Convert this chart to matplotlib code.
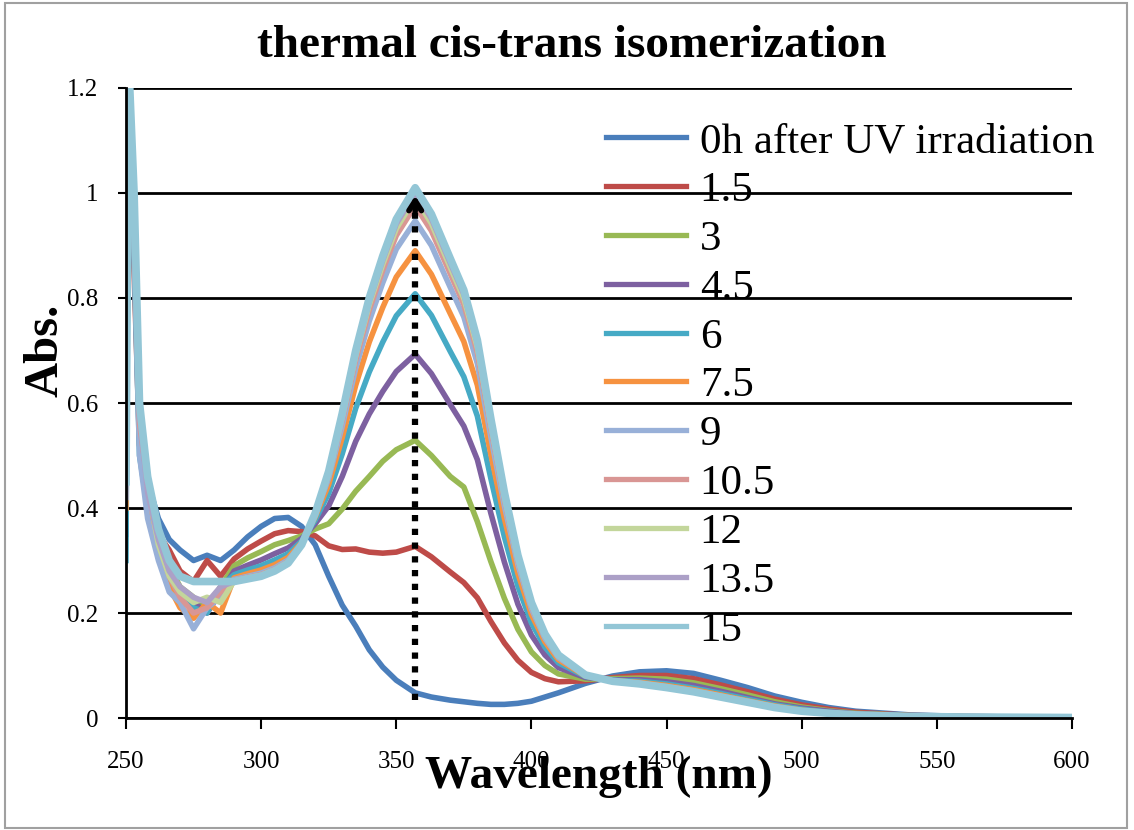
import matplotlib
matplotlib.use("Agg")
import matplotlib.pyplot as plt
from matplotlib.patches import Rectangle

plt.rcParams['font.family'] = ['Liberation Serif', 'DejaVu Serif']

# wavelength grid (nm)
wavelength = [250, 251, 253, 255, 258, 262, 266, 270, 275, 280, 285,
              290, 295, 300, 305, 310, 315, 320, 325, 330, 335, 340, 345, 350,
              357, 363, 370, 375, 380, 385, 390, 395, 400, 405, 410,
              420, 430, 440, 450, 460, 470, 480, 490, 500, 510, 520, 540, 560, 600]

labels = ['0h after UV irradiation', '1.5', '3', '4.5', '6', '7.5',
          '9', '10.5', '12', '13.5', '15']

colors = ['#4A7EBB', '#BE4B48', '#98B954', '#7D60A0', '#46AAC5', '#F69240',
          '#98B0D8', '#D99694', '#C3D69B', '#ACA0C7', '#93C6D6']

abs_0h = [0.35, 1.25, 0.90, 0.55, 0.45, 0.38, 0.34, 0.32, 0.30, 0.31, 0.30,
          0.32, 0.345, 0.365, 0.38, 0.382, 0.365, 0.33, 0.27, 0.215, 0.175, 0.13, 0.097, 0.072,
          0.048, 0.04, 0.034, 0.031, 0.028, 0.026, 0.026, 0.028, 0.032, 0.04, 0.048,
          0.066, 0.08, 0.088, 0.09, 0.085, 0.072, 0.058, 0.042, 0.03, 0.02, 0.013, 0.006, 0.003, 0.001]
abs_1h5 = [0.55, 1.25, 0.85, 0.52, 0.43, 0.35, 0.32, 0.28, 0.26, 0.30, 0.27,
           0.303, 0.322, 0.337, 0.351, 0.357, 0.355, 0.347, 0.328, 0.321, 0.322, 0.316, 0.314, 0.316,
           0.327, 0.307, 0.278, 0.258, 0.229, 0.184, 0.143, 0.11, 0.087, 0.075, 0.069,
           0.071, 0.077, 0.081, 0.081, 0.075, 0.063, 0.05, 0.036, 0.025, 0.017, 0.011, 0.005, 0.003, 0.001]
abs_3h = [0.45, 1.25, 0.95, 0.58, 0.44, 0.34, 0.29, 0.25, 0.23, 0.21, 0.25,
          0.29, 0.305, 0.317, 0.33, 0.338, 0.347, 0.36, 0.37, 0.398, 0.432, 0.46, 0.489, 0.511,
          0.529, 0.50, 0.46, 0.44, 0.374, 0.298, 0.228, 0.169, 0.126, 0.10, 0.084,
          0.074, 0.075, 0.076, 0.074, 0.067, 0.056, 0.044, 0.031, 0.021, 0.014, 0.009, 0.0045, 0.0025, 0.001]
abs_4h5 = [0.50, 1.25, 0.90, 0.55, 0.42, 0.33, 0.28, 0.24, 0.22, 0.20, 0.24,
           0.28, 0.291, 0.301, 0.313, 0.324, 0.342, 0.37, 0.404, 0.46, 0.527, 0.579, 0.622, 0.66,
           0.693, 0.656, 0.597, 0.556, 0.492, 0.39, 0.297, 0.217, 0.158, 0.12, 0.096,
           0.077, 0.073, 0.073, 0.069, 0.062, 0.051, 0.039, 0.027, 0.019, 0.013, 0.008, 0.004, 0.002, 0.001]
abs_6h = [0.30, 1.25, 0.88, 0.50, 0.40, 0.33, 0.27, 0.23, 0.21, 0.20, 0.25,
          0.273, 0.282, 0.29, 0.301, 0.313, 0.337, 0.377, 0.428, 0.503, 0.59, 0.659, 0.716, 0.766,
          0.808, 0.767, 0.698, 0.65, 0.575, 0.456, 0.345, 0.251, 0.181, 0.135, 0.105,
          0.079, 0.072, 0.07, 0.065, 0.057, 0.047, 0.036, 0.025, 0.017, 0.011, 0.007, 0.004, 0.002, 0.001]
abs_7h5 = [0.40, 1.25, 0.92, 0.54, 0.41, 0.32, 0.25, 0.21, 0.19, 0.22, 0.20,
           0.267, 0.275, 0.282, 0.292, 0.306, 0.334, 0.383, 0.445, 0.534, 0.634, 0.716, 0.782, 0.84,
           0.89, 0.845, 0.77, 0.717, 0.634, 0.502, 0.38, 0.275, 0.197, 0.145, 0.111,
           0.08, 0.071, 0.068, 0.062, 0.054, 0.044, 0.033, 0.023, 0.015, 0.01, 0.007, 0.003, 0.002, 0.001]
abs_9h = [0.42, 1.25, 0.90, 0.50, 0.38, 0.30, 0.24, 0.22, 0.17, 0.21, 0.23,
          0.264, 0.27, 0.276, 0.286, 0.301, 0.332, 0.386, 0.457, 0.556, 0.666, 0.756, 0.829, 0.893,
          0.947, 0.90, 0.82, 0.764, 0.675, 0.535, 0.404, 0.292, 0.208, 0.152, 0.115,
          0.081, 0.071, 0.066, 0.06, 0.052, 0.042, 0.032, 0.021, 0.014, 0.01, 0.006, 0.003, 0.002, 0.001]
abs_10h5 = [0.58, 1.25, 0.95, 0.56, 0.45, 0.34, 0.27, 0.23, 0.20, 0.21, 0.24,
            0.262, 0.268, 0.273, 0.283, 0.298, 0.331, 0.388, 0.463, 0.567, 0.682, 0.777, 0.853, 0.919,
            0.976, 0.928, 0.846, 0.788, 0.696, 0.551, 0.416, 0.30, 0.213, 0.156, 0.117,
            0.081, 0.07, 0.066, 0.059, 0.051, 0.041, 0.031, 0.021, 0.014, 0.009, 0.006, 0.003, 0.002, 0.001]
abs_12h = [0.52, 1.25, 1.00, 0.60, 0.44, 0.33, 0.27, 0.24, 0.22, 0.23, 0.22,
           0.261, 0.267, 0.272, 0.282, 0.297, 0.331, 0.389, 0.466, 0.573, 0.69, 0.787, 0.864, 0.932,
           0.991, 0.942, 0.858, 0.799, 0.706, 0.559, 0.422, 0.304, 0.216, 0.158, 0.119,
           0.082, 0.07, 0.065, 0.059, 0.051, 0.041, 0.031, 0.021, 0.013, 0.009, 0.006, 0.003, 0.002, 0.001]
abs_13h5 = [0.48, 1.25, 0.98, 0.58, 0.43, 0.34, 0.28, 0.25, 0.23, 0.22, 0.25,
            0.26, 0.266, 0.271, 0.281, 0.296, 0.33, 0.389, 0.468, 0.576, 0.695, 0.793, 0.872, 0.941,
            1.0, 0.951, 0.866, 0.807, 0.713, 0.565, 0.426, 0.307, 0.218, 0.159, 0.119,
            0.082, 0.07, 0.065, 0.058, 0.05, 0.04, 0.03, 0.02, 0.013, 0.009, 0.006, 0.003, 0.002, 0.001]
abs_15h = [0.45, 1.25, 1.00, 0.60, 0.46, 0.36, 0.30, 0.27, 0.26, 0.26, 0.26,
           0.26, 0.265, 0.27, 0.28, 0.295, 0.33, 0.39, 0.47, 0.58, 0.70, 0.80, 0.88, 0.95,
           1.01, 0.96, 0.875, 0.815, 0.72, 0.57, 0.43, 0.31, 0.22, 0.16, 0.12,
           0.082, 0.07, 0.065, 0.058, 0.05, 0.04, 0.03, 0.02, 0.013, 0.009, 0.006, 0.003, 0.002, 0.001]

series = [abs_0h, abs_1h5, abs_3h, abs_4h5, abs_6h, abs_7h5,
          abs_9h, abs_10h5, abs_12h, abs_13h5, abs_15h]

# arrow marking the growth of the trans band
arrow_x = 357
arrow_y0 = 0.035
arrow_y1 = 1.0

fig = plt.figure(figsize=(11.34, 8.30), dpi=100)
ax = fig.add_axes([0.1111, 0.1349, 0.8342, 0.7591])

for vals, lab, col in zip(series, labels, colors):
    lw = 5.5 if lab == '15' else 4.0
    ax.plot(wavelength, vals, color=col, lw=lw, label=lab, solid_joinstyle='round')

# dotted arrow
ax.plot([arrow_x, arrow_x], [arrow_y0, arrow_y1 - 0.02], color='black', lw=4.5,
        ls=(0, (1, 1.2)), zorder=20)
ax.annotate('', xy=(arrow_x, arrow_y1), xytext=(arrow_x, arrow_y1 - 0.04),
            arrowprops=dict(arrowstyle='->,head_length=0.7,head_width=0.45',
                            color='black', lw=4), zorder=21)

ax.set_xlim(250, 600)
ax.set_ylim(0, 1.2)
ax.set_xticks(range(250, 601, 50))
ax.set_yticks([0, 0.2, 0.4, 0.6, 0.8, 1.0, 1.2])
ax.set_yticklabels(['0', '0.2', '0.4', '0.6', '0.8', '1', '1.2'])
ax.tick_params(axis='both', labelsize=18, direction='out', width=1.5, color='black')
ax.tick_params(axis='x', length=8, pad=16)
ax.tick_params(axis='y', length=6, pad=14)
ax.yaxis.grid(True, color='black', lw=2)
ax.set_axisbelow(True)
for s in ['top', 'right']:
    ax.spines[s].set_visible(False)
ax.spines['left'].set_linewidth(2)
ax.spines['bottom'].set_linewidth(2)

leg = ax.legend(loc='upper left', bbox_to_anchor=(0.4895, 0.973), frameon=False,
                fontsize=31, handlelength=1.85, handletextpad=0.32, labelspacing=0.225,
                borderaxespad=0)
for h in leg.get_lines():
    h.set_linewidth(3.8)

fig.text(0.504, 0.944, 'thermal cis-trans isomerization', ha='center', va='center',
         fontsize=34, fontweight='bold')
fig.text(0.528, 0.064, 'Wavelength (nm)', ha='center', va='center',
         fontsize=34, fontweight='bold')
fig.text(0.04, 0.578, 'Abs.', ha='center', va='center', rotation=90,
         fontsize=35, fontweight='bold')

fig.patches.append(Rectangle((0.004, 0.003), 0.99, 0.993, transform=fig.transFigure,
                             fill=False, edgecolor='#A0A0A0', lw=1.5))

fig.savefig('out.png', dpi=100)
